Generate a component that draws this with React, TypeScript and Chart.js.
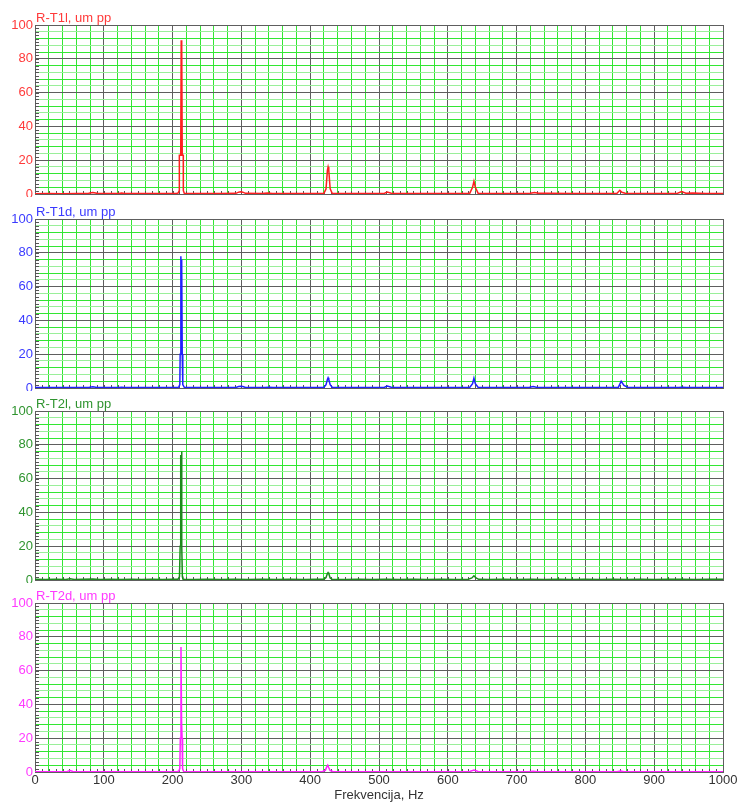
import React, { useEffect, useRef } from "react";
import { Chart, registerables } from "chart.js";

Chart.register(...registerables);

const FONT = '"Liberation Sans", Arial, sans-serif';

// ---- data (frequency in Hz, amplitude in um pp) ----
const freqT1l = [0, 20, 40, 60, 78, 84, 90, 110, 122, 126, 130, 160, 190, 206, 208, 209.7, 209.8, 211.8, 212.5, 213, 213.5, 214, 215.5, 215.6, 217, 240, 270, 292, 296, 299, 302, 306, 330, 338, 345, 380, 410, 420, 423, 425, 426, 427, 429, 432, 460, 490, 508, 512, 518, 560, 600, 632, 636, 638, 640, 644, 680, 720, 726, 732, 745, 780, 820, 846, 850, 853, 858, 900, 934, 940, 946, 956, 975, 1000];
const ampT1l = [0.2, 0.3, 0.2, 0.3, 0.4, 0.9, 0.4, 0.3, 0.3, 0.6, 0.3, 0.3, 0.3, 0.4, 0.5, 2, 23, 23, 91, 60, 88, 23, 23, 2, 0.4, 0.3, 0.3, 0.4, 1.1, 1.3, 1.1, 0.4, 0.3, 0.6, 0.3, 0.3, 0.3, 0.5, 3, 14, 16, 14, 3, 0.4, 0.3, 0.3, 0.5, 1.1, 0.4, 0.3, 0.3, 0.5, 4, 7.5, 4, 0.5, 0.3, 0.4, 0.9, 0.4, 0.5, 0.3, 0.3, 0.5, 2.2, 1, 0.4, 0.3, 0.5, 1.4, 0.5, 0.6, 0.3, 0.3];

const freqT1d = [0, 20, 40, 60, 78, 84, 90, 110, 122, 126, 130, 160, 190, 206, 209, 210.5, 211, 212, 212.7, 213.2, 214, 214.8, 217, 240, 270, 292, 296, 299, 302, 306, 334, 340, 346, 380, 410, 420, 423, 425, 426, 427, 429, 432, 460, 490, 508, 512, 518, 560, 600, 632, 636, 638, 640, 644, 680, 718, 724, 730, 760, 800, 840, 848, 852, 856, 862, 900, 935, 941, 947, 975, 1000];
const ampT1d = [0.3, 0.3, 0.3, 0.3, 0.3, 0.8, 0.3, 0.3, 0.3, 0.5, 0.3, 0.3, 0.3, 0.3, 0.5, 2, 20, 78, 45, 76, 20, 2, 0.4, 0.3, 0.3, 0.3, 0.9, 1, 0.9, 0.3, 0.3, 0.5, 0.3, 0.3, 0.3, 0.4, 2, 5, 6, 5, 2, 0.4, 0.3, 0.3, 0.5, 1.1, 0.4, 0.3, 0.3, 0.4, 2.5, 5.8, 2.5, 0.4, 0.3, 0.3, 0.9, 0.3, 0.3, 0.3, 0.3, 0.5, 4, 1.5, 0.3, 0.3, 0.3, 0.4, 0.3, 0.3, 0.3];

const freqT2l = [0, 15, 30, 45, 51, 57, 70, 84, 95, 110, 125, 140, 155, 170, 185, 200, 208, 210, 211, 211.8, 212.4, 213, 213.6, 214.2, 215, 217, 230, 250, 270, 290, 310, 330, 350, 370, 390, 410, 420, 423, 425, 426, 427, 429, 432, 450, 470, 490, 510, 530, 550, 570, 590, 610, 630, 635, 638, 641, 645, 660, 680, 700, 720, 740, 760, 780, 800, 820, 840, 860, 880, 900, 920, 940, 960, 980, 1000];
const ampT2l = [0.4, 0.3, 0.5, 0.3, 0.8, 0.3, 0.4, 0.6, 0.3, 0.5, 0.3, 0.4, 0.3, 0.5, 0.3, 0.4, 0.5, 2, 20, 74, 20, 76, 20, 2, 0.5, 0.4, 0.3, 0.5, 0.3, 0.4, 0.3, 0.5, 0.3, 0.4, 0.3, 0.5, 0.4, 1.5, 3.8, 4.4, 3.8, 1.2, 0.4, 0.3, 0.5, 0.3, 0.4, 0.3, 0.5, 0.3, 0.4, 0.3, 0.5, 1.2, 2.5, 1.2, 0.4, 0.3, 0.5, 0.3, 0.4, 0.3, 0.5, 0.3, 0.4, 0.3, 0.5, 0.3, 0.4, 0.3, 0.5, 0.4, 0.3, 0.5, 0.4];

const freqT2d = [0, 20, 40, 47, 51, 55, 70, 100, 130, 160, 190, 207, 209, 210.5, 211.2, 212.2, 213, 213.8, 214.5, 216, 240, 280, 320, 360, 400, 418, 422, 424, 425.5, 427, 429, 433, 470, 520, 570, 620, 632, 638, 644, 680, 718, 724, 730, 780, 830, 846, 851, 856, 900, 950, 1000];
const ampT2d = [0.2, 0.2, 0.2, 0.3, 0.8, 0.3, 0.2, 0.2, 0.2, 0.2, 0.2, 0.3, 0.5, 2, 20, 74, 30, 20, 2, 0.3, 0.2, 0.2, 0.2, 0.2, 0.2, 0.3, 1, 3, 4, 2.5, 0.8, 0.3, 0.2, 0.2, 0.2, 0.2, 0.3, 1.2, 0.3, 0.2, 0.2, 0.5, 0.2, 0.2, 0.2, 0.2, 0.6, 0.2, 0.2, 0.2, 0.2];

const panelTitles = ["R-T1l, um pp", "R-T1d, um pp", "R-T2l, um pp", "R-T2d, um pp"];
const panelColors = ["#ff1f1f", "#1f1fff", "#1c8a1c", "#ff22ff"];
const panelTextColors = ["#ff3a3a", "#3a3aff", "#2f942f", "#ff3aff"];
const panelFreqs = [freqT1l, freqT1d, freqT2l, freqT2d];
const panelAmps = [ampT1l, ampT1d, ampT2l, ampT2d];

const xMin = 0;
const xMax = 1000;
const yMin = 0;
const yMax = 100;
const xAxisTitle = "Frekvencija, Hz";

// layout
const PLOT_TOPS = [25, 219, 411, 603];
const PLOT_H = 169;
const CANVAS_W = 740;

const MAJOR = "#5e5e5e";
const GREEN = "#33e633";
const PALE = "#9aef9a";

const decorPlugin = {
  id: "panelDecor",
  beforeDatasetsDraw(chart: any) {
    const { ctx, chartArea, scales } = chart;
    const xs = scales.x;
    const ys = scales.y;
    ctx.save();
    ctx.strokeStyle = "#555";
    ctx.lineWidth = 1;
    ctx.beginPath();
    for (let v = yMin + 2; v < yMax; v += 2) {
      const py = Math.round(ys.getPixelForValue(v)) + 0.5;
      ctx.moveTo(chartArea.left, py);
      ctx.lineTo(chartArea.left + 4, py);
    }
    for (let v = xMin + 10; v < xMax; v += 10) {
      const px = Math.round(xs.getPixelForValue(v)) + 0.5;
      ctx.moveTo(px, chartArea.bottom);
      ctx.lineTo(px, chartArea.bottom - 3);
    }
    ctx.stroke();
    ctx.restore();
  },
  afterDraw(chart: any, _args: any, opts: any) {
    const { ctx, chartArea } = chart;
    ctx.save();
    ctx.font = `13px ${FONT}`;
    ctx.fillStyle = opts.color;
    ctx.textAlign = "left";
    ctx.textBaseline = "alphabetic";
    ctx.fillText(opts.title, chartArea.left + 1, chartArea.top - 3);
    ctx.restore();
  },
};

function Panel({ idx }: { idx: number }) {
  const ref = useRef<HTMLCanvasElement>(null);
  const isLast = idx === panelTitles.length - 1;
  const canvasTop = PLOT_TOPS[idx] - 25;
  const canvasH = isLast ? 804 - canvasTop : 25 + PLOT_H + 3;

  useEffect(() => {
    if (!ref.current) return;
    const fr = panelFreqs[idx];
    const am = panelAmps[idx];
    const points = fr.map((f, i) => ({ x: f, y: am[i] }));
    const chart = new Chart(ref.current, {
      type: "line",
      data: {
        datasets: [
          {
            data: points,
            borderColor: panelColors[idx],
            borderWidth: 1.5,
            pointRadius: 0,
            tension: 0,
            fill: false,
          },
        ],
      },
      options: {
        animation: false,
        responsive: false,
        devicePixelRatio: 1,
        layout: { padding: { top: 25, right: 17, left: 0, bottom: isLast ? 0 : 3 } },
        plugins: {
          legend: { display: false },
          tooltip: { enabled: false },
          panelDecor: { title: panelTitles[idx], color: panelTextColors[idx] },
        } as any,
        scales: {
          x: {
            type: "linear",
            min: xMin,
            max: xMax,
            afterFit: (s: any) => {
              s.height = isLast ? canvasH - 25 - PLOT_H : 0;
              s.paddingLeft = 0;
              s.paddingRight = 0;
              s.paddingTop = 0;
              s.paddingBottom = 0;
            },
            grid: {
              drawTicks: false,
              color: (c: any) => {
                const v = c.tick ? c.tick.value : 0;
                return v % 100 === 0 ? MAJOR : GREEN;
              },
            },
            border: { color: MAJOR },
            ticks: {
              display: isLast,
              stepSize: 20,
              autoSkip: false,
              maxRotation: 0,
              padding: 1,
              color: "#333",
              font: { family: FONT, size: 13 },
              callback: (v: any) => (Number(v) % 100 === 0 ? String(v) : ""),
            },
            title: {
              display: isLast,
              text: xAxisTitle,
              color: "#333",
              font: { family: FONT, size: 13 },
              padding: { top: 0, bottom: 1 },
            },
          },
          y: {
            min: yMin,
            max: yMax,
            afterFit: (s: any) => {
              s.width = 35;
              s.paddingTop = 0;
              s.paddingBottom = 0;
              s.paddingLeft = 0;
              s.paddingRight = 0;
            },
            grid: {
              drawTicks: false,
              color: (c: any) => {
                const v = c.tick ? c.tick.value : 0;
                if (v % 20 === 0) return MAJOR;
                return (v / 4) % 2 === 1 ? GREEN : PALE;
              },
            },
            border: { color: MAJOR },
            ticks: {
              stepSize: 4,
              autoSkip: false,
              padding: 2,
              color: panelTextColors[idx],
              font: { family: FONT, size: 13 },
              callback: (v: any) => (Number(v) % 20 === 0 ? String(v) : ""),
            },
          },
        },
      },
      plugins: [decorPlugin],
    });
    return () => chart.destroy();
  }, [idx, canvasH, isLast]);

  return (
    <canvas
      ref={ref}
      width={CANVAS_W}
      height={canvasH}
      style={{ position: "absolute", left: 0, top: canvasTop, width: CANVAS_W, height: canvasH }}
    />
  );
}

export default function App() {
  return (
    <div style={{ position: "absolute", left: 0, top: 0, width: 740, height: 804, background: "#fff", overflow: "hidden" }}>
      {panelTitles.map((_, i) => (
        <Panel key={i} idx={i} />
      ))}
    </div>
  );
}
